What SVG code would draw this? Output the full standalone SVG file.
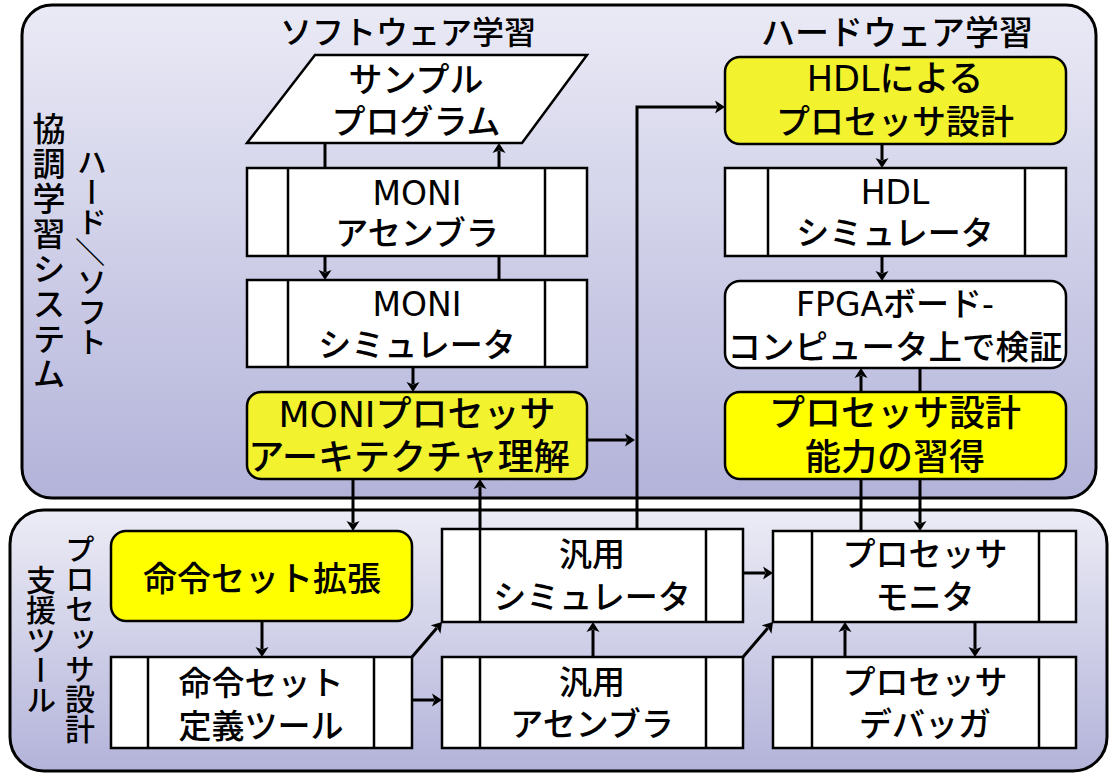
<svg xmlns="http://www.w3.org/2000/svg" width="1110" height="774" viewBox="0 0 1110 774">
<defs>
<linearGradient id="gTop" x1="0" y1="0" x2="0" y2="1"><stop offset="0" stop-color="#eaeaf6"/><stop offset="1" stop-color="#b3b3da"/></linearGradient>
<linearGradient id="gBot" x1="0" y1="0" x2="0" y2="1"><stop offset="0" stop-color="#ececf6"/><stop offset="1" stop-color="#b3b3da"/></linearGradient>
<marker id="arr" markerUnits="userSpaceOnUse" markerWidth="12" markerHeight="14" refX="2" refY="7" orient="auto"><path d="M0,0.5 L10,7 L0,13.5 L2.5,7 z" fill="#000"/></marker>
</defs>
<style>
.cont{stroke:#000;stroke-width:3}
.c{fill:none;stroke:#000;stroke-width:3}
.ca{fill:none;stroke:#000;stroke-width:3;marker-end:url(#arr)}
.box{fill:#fff;stroke:#000;stroke-width:2.5}
.dv{stroke:#000;stroke-width:2.5}
.yl{fill:#ffff00;stroke:#000;stroke-width:2.5}
.yl2{fill:#f2f22e;stroke:#000;stroke-width:2.5}
text{font-family:"Noto Sans CJK JP","Noto Sans",sans-serif;fill:#000;font-weight:500}
.t{font-family:"DejaVu Sans","Noto Sans CJK JP",sans-serif;font-size:33px;text-anchor:middle;dominant-baseline:central}
.ty{font-family:"DejaVu Sans","Noto Sans CJK JP",sans-serif;font-size:36px;text-anchor:middle;dominant-baseline:central}
.v{writing-mode:vertical-rl;text-anchor:middle}
</style>
<rect width="1110" height="774" fill="#fff"/>
<g id="containers">
<rect id="coLearning" x="22" y="5" width="1074" height="493" rx="30" fill="url(#gTop)" class="cont"/>
<rect id="toolSupport" x="10" y="510" width="1097" height="261" rx="34" fill="url(#gBot)" class="cont"/>
</g>
<g id="labels">
<text class="t" x="408" y="33" style="font-size:32px">ソフトウェア学習</text>
<text class="t" x="897" y="33" style="font-size:34px">ハードウェア学習</text>
<text class="v" x="92" y="252" style="font-size:30px">ハード<tspan style="text-orientation:sideways">／</tspan>ソフト</text>
<text class="v" x="49" y="252" style="font-size:33px;letter-spacing:2px">協調学習システム</text>
<text class="v" x="80" y="639" style="font-size:30px">プロセッサ設計</text>
<text class="v" x="41" y="640" style="font-size:30px">支援ツール</text>
</g>
<g id="connectors">
<path class="c" d="M325,143 V168"/>
<path class="ca" d="M499,168 V151"/>
<path class="ca" d="M325,256 V272"/>
<path class="c" d="M499,256 V280"/>
<path class="ca" d="M413,367 V384"/>
<path class="ca" d="M353,479 V523"/>
<path class="ca" d="M480,529 V487"/>
<path class="ca" d="M587,440 H627"/>
<path class="ca" d="M637,529 V107 H717"/>
<path class="ca" d="M882,144 V160"/>
<path class="ca" d="M882,256 V273"/>
<path class="ca" d="M861,531 V376"/>
<path class="ca" d="M920,368 V523"/>
<path class="ca" d="M262,621 V649"/>
<path class="ca" d="M412,700 H434"/>
<path class="ca" d="M412,657 L436.8,628.1"/>
<path class="ca" d="M593,657 V630"/>
<path class="ca" d="M743,573 H765"/>
<path class="ca" d="M743,657 L767.8,628.1"/>
<path class="ca" d="M845,657 V630"/>
<path class="ca" d="M975,622 V649"/>
</g>
<g id="sampleProgram">
<polygon points="315,55 587,55 522,143 247,143" class="box"/>
<text class="t" x="416" y="80" style="font-size:34px">サンプル</text>
<text class="t" x="416" y="122" style="font-size:34px">プログラム</text>
</g>
<g id="moniAssembler">
<rect x="247" y="168" width="340" height="88" class="box"/>
<line x1="288" y1="168" x2="288" y2="256" class="dv"/><line x1="545" y1="168" x2="545" y2="256" class="dv"/>
<text class="t" x="417" y="193">MONI</text>
<text class="t" x="417" y="233">アセンブラ</text>
</g>
<g id="moniSimulator">
<rect x="247" y="280" width="340" height="87" class="box"/>
<line x1="288" y1="280" x2="288" y2="367" class="dv"/><line x1="545" y1="280" x2="545" y2="367" class="dv"/>
<text class="t" x="417" y="304">MONI</text>
<text class="t" x="417" y="345">シミュレータ</text>
</g>
<g id="moniArchitecture">
<rect x="247" y="392" width="340" height="87" rx="14" class="yl2"/>
<text class="ty" x="417" y="414">MONIプロセッサ</text>
<text class="ty" x="409" y="457">アーキテクチャ理解</text>
</g>
<g id="hdlDesign">
<rect x="725" y="57" width="341" height="87" rx="15" class="yl2"/>
<text class="ty" x="895" y="79" style="font-size:35px">HDLによる</text>
<text class="ty" x="895" y="122" style="font-size:34px">プロセッサ設計</text>
</g>
<g id="hdlSimulator">
<rect x="725" y="168" width="341" height="88" class="box"/>
<line x1="768" y1="168" x2="768" y2="256" class="dv"/><line x1="1025" y1="168" x2="1025" y2="256" class="dv"/>
<text class="t" x="895" y="192">HDL</text>
<text class="t" x="895" y="233">シミュレータ</text>
</g>
<g id="fpgaVerification">
<rect x="725" y="281" width="341" height="87" rx="15" class="box"/>
<text class="t" x="895" y="304">FPGAボード-</text>
<text class="t" x="895" y="347" style="font-size:33.5px">コンピュータ上で検証</text>
</g>
<g id="designAbility">
<rect x="725" y="392" width="341" height="87" rx="15" class="yl"/>
<text class="ty" x="895" y="413">プロセッサ設計</text>
<text class="ty" x="895" y="457">能力の習得</text>
</g>
<g id="isaExtension">
<rect x="111" y="531" width="301" height="90" rx="15" class="yl"/>
<text class="ty" x="262" y="579" style="font-size:34px">命令セット拡張</text>
</g>
<g id="isaDefTool">
<rect x="111" y="657" width="301" height="91" class="box"/>
<line x1="148" y1="657" x2="148" y2="748" class="dv"/><line x1="374" y1="657" x2="374" y2="748" class="dv"/>
<text class="t" x="261" y="683">命令セット</text>
<text class="t" x="261" y="726">定義ツール</text>
</g>
<g id="genSimulator">
<rect x="442" y="529" width="301" height="93" class="box"/>
<line x1="480" y1="529" x2="480" y2="622" class="dv"/><line x1="706" y1="529" x2="706" y2="622" class="dv"/>
<text class="t" x="592" y="554">汎用</text>
<text class="t" x="592" y="597">シミュレータ</text>
</g>
<g id="genAssembler">
<rect x="442" y="657" width="301" height="91" class="box"/>
<line x1="480" y1="657" x2="480" y2="748" class="dv"/><line x1="706" y1="657" x2="706" y2="748" class="dv"/>
<text class="t" x="592" y="682">汎用</text>
<text class="t" x="592" y="724">アセンブラ</text>
</g>
<g id="procMonitor">
<rect x="773" y="531" width="303" height="91" class="box"/>
<line x1="812" y1="531" x2="812" y2="622" class="dv"/><line x1="1039" y1="531" x2="1039" y2="622" class="dv"/>
<text class="t" x="925" y="554">プロセッサ</text>
<text class="t" x="925" y="597">モニタ</text>
</g>
<g id="procDebugger">
<rect x="773" y="657" width="303" height="91" class="box"/>
<line x1="812" y1="657" x2="812" y2="748" class="dv"/><line x1="1039" y1="657" x2="1039" y2="748" class="dv"/>
<text class="t" x="925" y="682">プロセッサ</text>
<text class="t" x="925" y="724">デバッガ</text>
</g>
</svg>
